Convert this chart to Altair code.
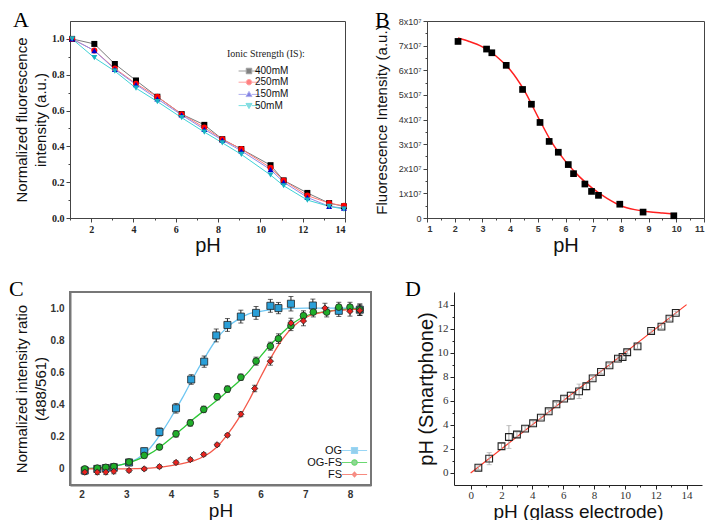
import altair as alt
import pandas as pd

SERIF = "Liberation Serif"
SANS = "Liberation Sans"

# ---------------- Panel A data ----------------
a_ph = [1.1, 2.15, 3.12, 4.12, 5.13, 6.28, 7.35, 8.2, 9.1, 10.48, 11.1, 12.22, 13.25, 13.95]
a_400 = [1.0, 0.972, 0.86, 0.768, 0.677, 0.58, 0.52, 0.44, 0.385, 0.295, 0.21, 0.14, 0.083, 0.065]
a_250 = [1.0, 0.935, 0.835, 0.75, 0.677, 0.58, 0.505, 0.44, 0.385, 0.28, 0.21, 0.125, 0.083, 0.068]
a_150 = [1.0, 0.935, 0.83, 0.745, 0.665, 0.575, 0.495, 0.435, 0.375, 0.27, 0.20, 0.115, 0.065, 0.055]
a_50 = [1.0, 0.895, 0.82, 0.725, 0.65, 0.56, 0.48, 0.42, 0.355, 0.24, 0.18, 0.10, 0.065, 0.05]
a_series = ["400mM", "250mM", "150mM", "50mM"]
a_marker_colors = ["#000000", "#ff0000", "#0000c8", "#19b2c2"]
a_line_colors = ["#7a7a7a", "#ff7a7a", "#8c8ce8", "#3fd2d6"]
a_shapes = ["square", "circle", "triangle-up", "triangle-down"]
a_leg_shapes = [
    "M-3.8,0H-1M1,0H3.8M-1,-1H1V1H-1Z",
    "M-3.8,0H-1M1,0H3.8M-1,0A1,1,0,1,0,1,0A1,1,0,1,0,-1,0Z",
    "M-3.8,0H-1M1,0H3.8M0,-1.1L1.1,0.8H-1.1Z",
    "M-3.8,0H-1M1,0H3.8M0,1.1L1.1,-0.8H-1.1Z",
]
a_x_ticks = [2, 4, 6, 8, 10, 12, 14]
a_x_minor = [1, 3, 5, 7, 9, 11, 13]
a_y_ticks = [0, 0.2, 0.4, 0.6, 0.8, 1.0]
a_y_minor = [0.1, 0.3, 0.5, 0.7, 0.9]

# ---------------- Panel B data ----------------
b_ph = [2.12, 3.15, 3.34, 3.86, 4.45, 4.77, 5.08, 5.41, 5.74, 6.10, 6.29, 6.70, 6.94, 7.19, 7.96, 8.80, 9.91]
b_val = [7.17, 6.86, 6.71, 6.20, 5.22, 4.62, 3.88, 3.11, 2.67, 2.17, 1.80, 1.38, 1.08, 0.92, 0.56, 0.24, 0.09]
b_fit_ph = [2.12, 2.5, 3.0, 3.5, 4.0, 4.5, 5.0, 5.5, 6.0, 6.5, 7.0, 7.5, 8.0, 8.5, 9.0, 9.5, 10.0]
b_fit_val = [7.31, 7.18, 6.95, 6.57, 6.02, 5.2, 4.12, 3.08, 2.3, 1.68, 1.18, 0.8, 0.5, 0.34, 0.25, 0.2, 0.16]
b_x_ticks = [1, 2, 3, 4, 5, 6, 7, 8, 9, 10, 11]
b_x_minor = [1.5, 2.5, 3.5, 4.5, 5.5, 6.5, 7.5, 8.5, 9.5, 10.5]
b_y_ticks = [0, 1e7, 2e7, 3e7, 4e7, 5e7, 6e7, 7e7, 8e7]
b_y_minor = [0.5e7, 1.5e7, 2.5e7, 3.5e7, 4.5e7, 5.5e7, 6.5e7, 7.5e7]

# ---------------- Panel C data ----------------
c_series = ["OG", "OG-FS", "FS"]
c_og_ph = [2.07, 2.35, 2.54, 2.72, 3.06, 3.40, 3.74, 4.11, 4.45, 4.74, 5.01, 5.26, 5.56, 5.90, 6.22, 6.40, 6.68, 7.17, 7.75, 8.22]
c_og_val = [-0.01, 0.0, 0.005, 0.01, 0.04, 0.11, 0.23, 0.377, 0.556, 0.667, 0.83, 0.895, 0.947, 0.97, 1.014, 1.0, 1.027, 1.016, 0.983, 0.99]
c_og_err = [0.02, 0.02, 0.02, 0.02, 0.02, 0.02, 0.025, 0.03, 0.03, 0.035, 0.04, 0.04, 0.04, 0.04, 0.04, 0.035, 0.045, 0.04, 0.035, 0.035]
c_ogfs_ph = [2.07, 2.35, 2.54, 2.72, 3.06, 3.40, 3.74, 4.11, 4.43, 4.73, 5.03, 5.26, 5.56, 5.90, 6.22, 6.40, 6.68, 6.96, 7.18, 7.48, 7.75, 8.0, 8.22]
c_ogfs_val = [0.0, 0.005, 0.01, 0.015, 0.043, 0.084, 0.136, 0.218, 0.286, 0.37, 0.449, 0.496, 0.57, 0.67, 0.763, 0.81, 0.89, 0.953, 0.975, 0.975, 1.006, 1.006, 0.99]
c_ogfs_err = [0.015, 0.015, 0.015, 0.015, 0.015, 0.015, 0.015, 0.02, 0.02, 0.02, 0.02, 0.02, 0.02, 0.025, 0.025, 0.03, 0.03, 0.03, 0.03, 0.03, 0.03, 0.03, 0.035]
c_fs_ph = [2.07, 2.35, 2.54, 2.72, 3.06, 3.40, 3.74, 4.11, 4.43, 4.73, 5.03, 5.26, 5.56, 5.87, 6.22, 6.68, 6.96, 7.44, 8.0, 8.22]
c_fs_val = [-0.02, -0.02, -0.02, -0.015, -0.01, 0.0, 0.014, 0.04, 0.058, 0.09, 0.15, 0.21, 0.34, 0.50, 0.67, 0.907, 0.92, 1.0, 0.98, 0.985]
c_fs_err = [0.015, 0.015, 0.015, 0.015, 0.01, 0.01, 0.01, 0.01, 0.01, 0.01, 0.01, 0.01, 0.015, 0.02, 0.025, 0.03, 0.03, 0.03, 0.03, 0.03]
c_fit_ph = [2.07, 2.5, 3.0, 3.25, 3.5, 3.75, 4.0, 4.25, 4.5, 4.75, 5.0, 5.25, 5.5, 5.75, 6.0, 6.25, 6.5, 6.75, 7.0, 7.5, 8.0, 8.3]
c_fit_og = [0.003, 0.01, 0.035, 0.065, 0.12, 0.21, 0.32, 0.44, 0.57, 0.69, 0.80, 0.88, 0.93, 0.965, 0.98, 0.99, 0.995, 0.998, 1.0, 1.0, 1.0, 1.0]
c_fit_ogfs = [0.002, 0.01, 0.035, 0.058, 0.09, 0.135, 0.19, 0.25, 0.31, 0.365, 0.42, 0.48, 0.54, 0.61, 0.70, 0.78, 0.85, 0.91, 0.95, 0.98, 0.995, 1.0]
c_fit_fs = [0.0, 0.0, 0.0, 0.002, 0.005, 0.01, 0.02, 0.033, 0.05, 0.08, 0.13, 0.21, 0.31, 0.43, 0.57, 0.70, 0.81, 0.89, 0.94, 0.98, 0.99, 0.995]
c_marker_colors = ["#2a9fd8", "#1fae2a", "#e8231f"]
c_line_colors = ["#6ec6f2", "#2dc836", "#f4594a"]
c_shapes = ["square", "circle", "diamond"]
c_sizes = [50, 40, 20]
c_leg_shapes = [
    "M-4.2,0H-1M1,0H4.2M-1,-1H1V1H-1Z",
    "M-4.2,0H-0.9M0.9,0H4.2M-0.9,0A0.9,0.9,0,1,0,0.9,0A0.9,0.9,0,1,0,-0.9,0Z",
    "M-4.2,0H-0.7M0.7,0H4.2M0,-0.8L0.7,0L0,0.8L-0.7,0Z",
]
c_x_ticks = [2, 3, 4, 5, 6, 7, 8]
c_y_ticks = [0, 0.2, 0.4, 0.6, 0.8, 1.0]

# ---------------- Panel D data ----------------
d_x = [0.5, 1.2, 2.0, 2.48, 3.0, 3.53, 4.05, 4.55, 5.06, 5.56, 6.06, 6.49, 7.03, 7.5, 7.91, 8.45, 9.0, 9.55, 9.85, 10.15, 10.82, 11.7, 12.37, 12.89, 13.3]
d_y = [0.44, 1.19, 2.22, 2.99, 3.2, 3.69, 4.13, 4.6, 5.13, 5.71, 6.18, 6.43, 6.79, 7.21, 7.87, 8.4, 8.95, 9.51, 9.65, 10.04, 10.53, 11.81, 12.17, 12.84, 13.31]
d_err = [0.15, 0.5, 0.25, 0.95, 0.2, 0.2, 0.2, 0.15, 0.15, 0.15, 0.2, 0.3, 0.6, 0.3, 0.15, 0.15, 0.15, 0.15, 0.15, 0.15, 0.2, 0.15, 0.15, 0.15, 0.15]
d_fit_x = [0, 14]
d_fit_y = [0, 14]
d_ticks = [0, 2, 4, 6, 8, 10, 12, 14]
d_minor = [1, 3, 5, 7, 9, 11, 13]

panel_letters = ["A", "B", "C", "D"]

# ---------------- tables ----------------
a_df = pd.DataFrame([
    {"pH": p, "val": v, "IS": n}
    for n, vals in zip(a_series, [a_400, a_250, a_150, a_50])
    for p, v in zip(a_ph, vals)
])
b_df = pd.DataFrame({"pH": b_ph, "val": [v * 1e7 for v in b_val]})
b_fit = pd.DataFrame({"pH": b_fit_ph, "val": [v * 1e7 for v in b_fit_val]})
c_df = pd.DataFrame(
    [{"pH": p, "val": v, "err": e, "s": "OG"} for p, v, e in zip(c_og_ph, c_og_val, c_og_err)]
    + [{"pH": p, "val": v, "err": e, "s": "OG-FS"} for p, v, e in zip(c_ogfs_ph, c_ogfs_val, c_ogfs_err)]
    + [{"pH": p, "val": v, "err": e, "s": "FS"} for p, v, e in zip(c_fs_ph, c_fs_val, c_fs_err)]
)
c_fit = pd.DataFrame(
    [{"pH": p, "val": v, "s": n}
     for n, vals in zip(c_series, [c_fit_og, c_fit_ogfs, c_fit_fs])
     for p, v in zip(c_fit_ph, vals)]
)
d_df = pd.DataFrame({"x": d_x, "y": d_y, "err": d_err})
d_fit = pd.DataFrame({"x": d_fit_x, "y": d_fit_y})


def letter(t, dx, dy):
    return alt.Chart(pd.DataFrame({"t": [t]})).mark_text(
        font=SERIF, fontSize=22, align="left", baseline="alphabetic", color="#000"
    ).encode(text="t:N", x=alt.value(dx), y=alt.value(dy))


def minor_axis(orient, values, color, offset=0):
    return alt.Axis(orient=orient, values=values, labels=False, domain=False, grid=False,
                    tickSize=2, tickColor=color, title=None, offset=offset)


# ---------------- Panel A ----------------
a_xs = alt.Scale(domain=[1, 14], nice=False, zero=False)
a_ys = alt.Scale(domain=[0, 1.1], nice=False, zero=False)
ax_a = alt.X("pH:Q", scale=a_xs,
             axis=alt.Axis(orient="bottom", values=a_x_ticks, title="pH", grid=False,
                           labelFont=SERIF, labelFontWeight="bold", labelFontSize=10, labelColor="#222",
                           tickSize=4, tickColor="#444", domainColor="#444", labelPadding=2,
                           titleFont=SANS, titleFontSize=20, titleFontWeight="normal", titleColor="#111",
                           titlePadding=1))
ay_a = alt.Y("val:Q", scale=a_ys,
             axis=alt.Axis(orient="left", values=a_y_ticks, format=".1f", grid=False,
                           title=["Normalized fluorescence", "intensity (a.u.)"],
                           labelFont=SERIF, labelFontWeight="bold", labelFontSize=10, labelColor="#222",
                           tickSize=4, tickColor="#444", domainColor="#444", labelPadding=2,
                           titleFont=SANS, titleFontSize=15, titleFontWeight="normal", titleColor="#111",
                           titleLineHeight=19, titlePadding=3))
px_a = alt.X("pH:Q", scale=a_xs, axis=None)
py_a = alt.Y("val:Q", scale=a_ys, axis=None)
a_legend = alt.Legend(title="Ionic Strength (IS):", orient="none", legendX=157, legendY=28,
                      titleFont=SERIF, titleFontSize=10, titleFontWeight="normal", titleColor="#222",
                      labelFont=SANS, labelFontSize=10, labelColor="#111",
                      symbolSize=30, symbolStrokeWidth=1, symbolOffset=17, labelOffset=1,
                      rowPadding=1.2, titlePadding=7, padding=0)
a_lines = alt.Chart(a_df).mark_line(strokeWidth=1).encode(
    x=ax_a, y=ay_a,
    stroke=alt.Stroke("IS:N", scale=alt.Scale(domain=a_series, range=a_line_colors), legend=None))
a_pts = alt.Chart(a_df).mark_point(filled=True, size=36, opacity=1).encode(
    x=px_a, y=py_a,
    fill=alt.Fill("IS:N", scale=alt.Scale(domain=a_series, range=a_marker_colors), legend=None),
    shape=alt.Shape("IS:N", scale=alt.Scale(domain=a_series, range=a_shapes), legend=None))
a_minor = alt.Chart(a_df).mark_point(opacity=0).encode(
    x=alt.X("pH:Q", scale=a_xs, axis=minor_axis("bottom", a_x_minor, "#444")),
    y=alt.Y("val:Q", scale=a_ys, axis=minor_axis("left", a_y_minor, "#444")))
a_leg = alt.Chart(pd.DataFrame({"IS": a_series})).transform_filter("false").mark_point(filled=True).encode(
    fill=alt.Fill("IS:N", scale=alt.Scale(domain=a_series, range=a_marker_colors), legend=a_legend),
    stroke=alt.Stroke("IS:N", scale=alt.Scale(domain=a_series, range=a_line_colors), legend=a_legend),
    shape=alt.Shape("IS:N", scale=alt.Scale(domain=a_series, range=a_leg_shapes), legend=a_legend))
panel_a = alt.layer(a_lines, a_pts, a_minor, a_leg, letter(panel_letters[0], -57, 6)).resolve_scale(
    fill="independent", stroke="independent", shape="independent"
).resolve_axis(x="independent", y="independent").properties(
    width=275, height=197, view=alt.ViewBackground(stroke="#444", strokeWidth=1))

# ---------------- Panel B ----------------
b_xs = alt.Scale(domain=[1, 11], nice=False, zero=False)
b_ys = alt.Scale(domain=[0, 8e7], nice=False, zero=False)
ax_b = alt.X("pH:Q", scale=b_xs,
             axis=alt.Axis(orient="bottom", values=b_x_ticks, title="pH", grid=False,
                           labelFont=SANS, labelFontWeight="bold", labelFontSize=9, labelColor="#333",
                           tickSize=4, tickColor="#444", domainColor="#444", labelPadding=2,
                           titleFont=SANS, titleFontSize=20, titleFontWeight="normal", titleColor="#111",
                           titlePadding=2))
ay_b = alt.Y("val:Q", scale=b_ys,
             axis=alt.Axis(orient="left", values=b_y_ticks, grid=False,
                           labelExpr="datum.value == 0 ? '0' : round(datum.value / 1e7) + 'x10\u2077'",
                           title="Fluorescence Intensity (a.u.)",
                           labelFont=SANS, labelFontSize=9, labelColor="#333",
                           tickSize=4, tickColor="#444", domainColor="#444", labelPadding=2,
                           titleFont=SANS, titleFontSize=15, titleFontWeight="normal", titleColor="#111",
                           titlePadding=9))
px_b = alt.X("pH:Q", scale=b_xs, axis=None)
py_b = alt.Y("val:Q", scale=b_ys, axis=None)
b_line = alt.Chart(b_fit).mark_line(color="#ff2020", strokeWidth=1.5, interpolate="monotone").encode(x=ax_b, y=ay_b)
b_pts = alt.Chart(b_df).mark_point(shape="square", filled=True, size=45, color="#000", opacity=1).encode(x=px_b, y=py_b)
b_minor = alt.Chart(b_df).mark_point(opacity=0).encode(
    x=alt.X("pH:Q", scale=b_xs, axis=minor_axis("bottom", b_x_minor, "#444")),
    y=alt.Y("val:Q", scale=b_ys, axis=minor_axis("left", b_y_minor, "#444")))
panel_b = alt.layer(b_line, b_pts, b_minor, letter(panel_letters[1], -52, 6)).resolve_axis(
    x="independent", y="independent").properties(
    width=277, height=197, view=alt.ViewBackground(stroke="#444", strokeWidth=1))

# ---------------- Panel C ----------------
c_xs = alt.Scale(domain=[1.74, 8.47], nice=False, zero=False)
c_ys = alt.Scale(domain=[-0.1, 1.1], nice=False, zero=False)
ax_c = alt.X("pH:Q", scale=c_xs,
             axis=alt.Axis(orient="bottom", values=c_x_ticks, title="pH", grid=False,
                           labelFont=SANS, labelFontWeight="bold", labelFontSize=10, labelColor="#333",
                           tickSize=0, domainColor="#777", domainWidth=2, labelPadding=4,
                           titleFont=SANS, titleFontSize=19, titleFontWeight="normal", titleColor="#111",
                           titlePadding=2))
ay_c = alt.Y("val:Q", scale=c_ys,
             axis=alt.Axis(orient="left", values=c_y_ticks, grid=False,
                           labelExpr="datum.value == 0 ? '0' : format(datum.value, '.1f')",
                           title=["Normalized intensity ratio", "(488/561)"],
                           labelFont=SANS, labelFontWeight="bold", labelFontSize=10, labelColor="#333",
                           tickSize=0, domainColor="#777", domainWidth=2, labelPadding=6,
                           titleFont=SANS, titleFontSize=15, titleFontWeight="normal", titleColor="#111",
                           titleLineHeight=19, titlePadding=2))
px_c = alt.X("pH:Q", scale=c_xs, axis=None)
py_c = alt.Y("val:Q", scale=c_ys, axis=None)
c_legend = alt.Legend(title=None, orient="none", legendX=234, legendY=153,
                      labelFont=SANS, labelFontSize=11, labelColor="#111", labelAlign="right",
                      labelOffset={"expr": "-18"}, symbolOffset=45, symbolSize=36, symbolStrokeWidth=1.2,
                      rowPadding=0, padding=0)
c_lines = alt.Chart(c_fit).mark_line(strokeWidth=1.3, interpolate="monotone").encode(
    x=ax_c, y=ay_c,
    stroke=alt.Stroke("s:N", scale=alt.Scale(domain=c_series, range=c_line_colors), legend=None))
c_err = alt.Chart(c_df).mark_errorbar(ticks=True, color="#222", thickness=1).encode(
    x=px_c, y=py_c, yError="err:Q", detail="s:N")
c_pts = alt.Chart(c_df).mark_point(filled=True, stroke="#222", strokeWidth=0.8, opacity=1).encode(
    x=px_c, y=py_c,
    fill=alt.Fill("s:N", scale=alt.Scale(domain=c_series, range=c_marker_colors), legend=None),
    shape=alt.Shape("s:N", scale=alt.Scale(domain=c_series, range=c_shapes), legend=None),
    size=alt.Size("s:N", scale=alt.Scale(domain=c_series, range=c_sizes), legend=None))
c_leg = alt.Chart(pd.DataFrame({"s": c_series})).transform_filter("false").mark_point(filled=True).encode(
    fill=alt.Fill("s:N", scale=alt.Scale(domain=c_series, range=c_marker_colors), legend=c_legend),
    stroke=alt.Stroke("s:N", scale=alt.Scale(domain=c_series, range=c_line_colors), legend=c_legend),
    shape=alt.Shape("s:N", scale=alt.Scale(domain=c_series, range=c_leg_shapes), legend=c_legend))
panel_c = alt.layer(c_lines, c_err, c_pts, c_leg, letter(panel_letters[2], -61, 4)).resolve_scale(
    fill="independent", stroke="independent", shape="independent", size="independent"
).resolve_axis(x="independent", y="independent").properties(
    width=301, height=193, view=alt.ViewBackground(stroke="#777", strokeWidth=2))

# ---------------- Panel D ----------------
# panel D shares the second column with B, but its axes start 27px further right
d_xs = alt.Scale(domain=[-1.08, 15.0], range=[27, 275], nice=False, zero=False)
d_ys = alt.Scale(domain=[-1.0, 15.05], nice=False, zero=False)
ax_d = alt.X("x:Q", scale=d_xs,
             axis=alt.Axis(orient="bottom", values=d_ticks, title="pH (glass electrode)", grid=False,
                           labelFont=SERIF, labelFontSize=11, labelColor="#333",
                           tickSize=4, tickColor="#222", domainColor="#222", labelPadding=0,
                           titleFont=SANS, titleFontSize=19, titleFontWeight="normal", titleColor="#111",
                           titlePadding=2))
ay_d = alt.Y("y:Q", scale=d_ys,
             axis=alt.Axis(orient="left", values=d_ticks, title="pH (Smartphone)", grid=False, offset=-27,
                           labelFont=SERIF, labelFontSize=11, labelColor="#333",
                           tickSize=4, tickColor="#222", domainColor="#222", labelPadding=2,
                           titleFont=SANS, titleFontSize=20, titleFontWeight="normal", titleColor="#111",
                           titlePadding=1))
px_d = alt.X("x:Q", scale=d_xs, axis=None)
py_d = alt.Y("y:Q", scale=d_ys, axis=None)
d_line = alt.Chart(d_fit).mark_line(color="#ff3a2a", strokeWidth=1.2).encode(x=ax_d, y=ay_d)
d_err = alt.Chart(d_df).mark_errorbar(ticks=True, color="#aaaaaa", thickness=1).encode(x=px_d, y=py_d, yError="err:Q")
d_pts = alt.Chart(d_df).mark_point(shape="square", size=46, filled=False, stroke="#222",
                                   strokeWidth=1.1, opacity=1).encode(x=px_d, y=py_d)
d_minor = alt.Chart(d_df).mark_point(opacity=0).encode(
    x=alt.X("x:Q", scale=d_xs, axis=minor_axis("bottom", d_minor, "#222")),
    y=alt.Y("y:Q", scale=d_ys, axis=minor_axis("left", d_minor, "#222", -27)))
panel_d = alt.layer(d_line, d_err, d_pts, d_minor, letter(panel_letters[3], -22, 4)).resolve_axis(
    x="independent", y="independent").properties(
    width=275, height=193, view=alt.ViewBackground(stroke="transparent"))

chart = alt.concat(panel_a, panel_b, panel_c, panel_d, columns=2,
                   spacing={"row": 74, "column": 56}, bounds="flush", align="none").properties(
    padding={"left": 0, "top": 0, "right": 0, "bottom": -2},
    background="white",
)

chart.save("out.html", embed_options={"renderer": "svg", "actions": False})
